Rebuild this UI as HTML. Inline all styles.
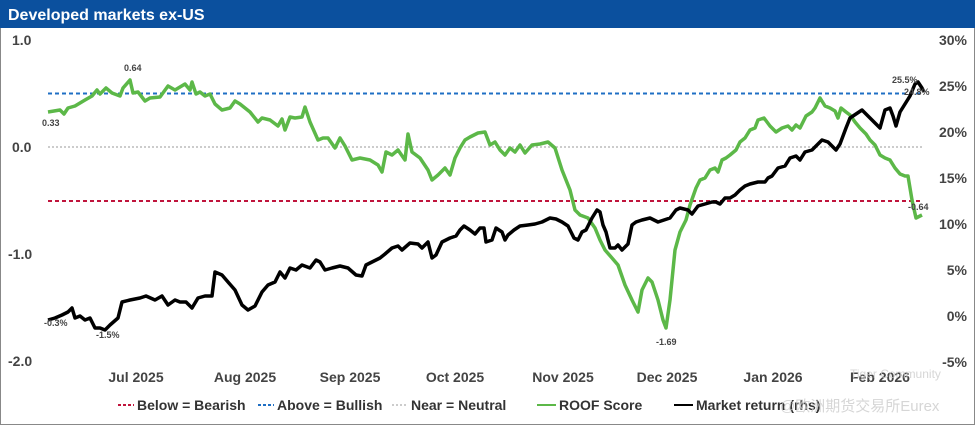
<!DOCTYPE html>
<html><head><meta charset="utf-8"><style>
html,body{margin:0;padding:0;background:#fff;}
body{width:975px;height:425px;overflow:hidden;font-family:"Liberation Sans","Noto Sans CJK SC",sans-serif;}
</style></head><body>
<svg width="975" height="425" viewBox="0 0 975 425" xmlns="http://www.w3.org/2000/svg" font-family="Liberation Sans, Noto Sans CJK SC, sans-serif">
<rect x="0.5" y="0.5" width="974" height="424" fill="#fff" stroke="#888"/>
<rect x="0" y="0" width="975" height="28" fill="#0b509e"/>
<text x="8" y="20" fill="#fff" font-size="16" font-weight="bold">Developed markets ex-US</text>
<g fill="#444" font-size="14" font-weight="bold">
<text x="12" y="45">1.0</text><text x="12" y="152">0.0</text><text x="8" y="259">-1.0</text><text x="8" y="366">-2.0</text>
</g>
<g fill="#444" font-size="14" font-weight="bold" text-anchor="end">
<text x="967" y="45">30%</text><text x="967" y="91">25%</text><text x="967" y="137">20%</text><text x="967" y="183">15%</text><text x="967" y="229">10%</text><text x="967" y="275">5%</text><text x="967" y="321">0%</text><text x="967" y="367">-5%</text>
</g>
<line x1="48" y1="93.5" x2="922" y2="93.5" stroke="#1f6fc4" stroke-width="2" stroke-dasharray="4,3"/>
<line x1="48" y1="147" x2="922" y2="147" stroke="#bbb" stroke-width="1.5" stroke-dasharray="2,2"/>
<line x1="48" y1="201" x2="922" y2="201" stroke="#c0143c" stroke-width="2" stroke-dasharray="4,3"/>
<polyline fill="none" stroke="#5cb848" stroke-width="3.5" stroke-linejoin="round" points="48,112 60,110 64,114 68,108 75,106 85,100 92,96 97,90 100,94 106,88 112,93 120,96 123,88 130,80 133,93 138,92 145,101 150,98 160,97 168,86 175,90 185,84 190,90 192,82 196,94 200,92 205,96 210,94 215,104 222,110 230,108 235,101 240,104 250,112 258,122 262,118 270,120 278,126 282,119 285,130 290,117 295,118 302,117 305,107 310,122 318,140 323,138 328,138 335,148 340,138 345,146 352,160 360,158 370,160 378,165 382,172 386,152 392,155 398,150 405,160 408,134 412,152 420,158 428,170 432,180 438,175 445,168 450,175 455,158 460,148 465,140 470,137 478,133 485,132 490,145 495,142 500,150 505,155 510,148 515,152 520,145 525,153 532,145 540,144 548,142 555,148 562,170 570,190 575,210 580,215 588,218 595,228 600,240 605,250 612,258 618,265 625,285 632,300 638,312 642,290 648,278 652,282 658,300 663,320 666,328 670,300 675,250 680,232 686,220 690,205 696,188 700,180 705,178 710,170 715,168 718,172 722,160 726,158 730,155 736,150 740,142 745,138 750,130 755,128 758,120 764,118 770,126 776,132 782,128 788,126 792,130 796,125 800,128 806,116 812,112 815,108 820,98 825,106 830,108 835,111 838,118 841,108 846,112 850,115 855,122 860,128 866,134 870,140 875,145 880,155 885,158 890,160 895,168 900,174 905,176 908,176 912,200 916,218 922,215"/>
<polyline fill="none" stroke="#000" stroke-width="3.5" stroke-linejoin="round" points="48,320 55,318 62,315 68,312 72,308 75,318 80,316 85,320 90,318 95,328 100,328 105,330 110,325 118,318 122,302 130,300 140,298 146,296 155,300 162,296 168,305 175,300 180,302 186,302 192,308 198,298 205,296 212,296 215,272 222,275 228,282 235,290 242,305 248,310 255,306 262,292 268,285 275,282 280,272 285,278 290,268 296,270 302,265 310,268 316,260 320,262 325,270 332,268 340,266 348,268 356,275 362,276 366,265 372,262 380,258 385,254 392,248 398,246 402,250 410,243 418,244 422,248 428,242 432,258 436,255 442,242 450,238 456,236 460,230 464,226 470,230 475,234 480,228 484,228 486,242 492,240 496,228 502,232 505,240 508,235 514,230 520,226 528,225 535,224 542,222 550,218 556,219 562,222 568,226 574,238 578,240 582,232 586,230 592,218 597,210 600,212 603,225 606,232 610,248 615,248 618,245 622,250 628,244 632,225 636,222 642,220 650,218 658,222 664,220 670,218 676,210 680,208 688,210 692,214 698,206 705,204 712,202 716,202 720,204 725,198 730,198 735,195 740,190 745,186 750,184 758,182 765,182 768,178 772,176 778,168 785,166 790,158 796,156 800,160 805,152 812,150 818,144 822,140 828,142 832,146 836,150 840,144 846,128 850,118 856,114 862,110 868,116 874,122 880,128 885,110 890,108 893,116 896,126 900,112 905,104 910,96 915,84 918,82 922,88 924,92"/>
<g fill="#444" font-size="9" font-weight="bold">
<text x="42" y="126">0.33</text><text x="124" y="71">0.64</text><text x="44" y="326">-0.3%</text><text x="96" y="338">-1.5%</text>
<text x="656" y="345">-1.69</text><text x="892" y="83">25.5%</text><text x="904" y="95">24.8%</text><text x="908" y="210">-0.64</text>
</g>
<g fill="#444" font-size="14" font-weight="bold" text-anchor="middle">
<text x="136" y="382">Jul 2025</text><text x="245" y="382">Aug 2025</text><text x="350" y="382">Sep 2025</text><text x="455" y="382">Oct 2025</text><text x="563" y="382">Nov 2025</text><text x="667" y="382">Dec 2025</text><text x="773" y="382">Jan 2026</text><text x="880" y="382">Feb 2026</text>
</g>
<g font-size="14" font-weight="bold" fill="#333">
<line x1="118" y1="405" x2="134" y2="405" stroke="#c0143c" stroke-width="2" stroke-dasharray="3,2"/><text x="137" y="410">Below = Bearish</text>
<line x1="258" y1="405" x2="274" y2="405" stroke="#1f6fc4" stroke-width="2" stroke-dasharray="3,2"/><text x="277" y="410">Above = Bullish</text>
<line x1="392" y1="405" x2="408" y2="405" stroke="#bbb" stroke-width="1.5" stroke-dasharray="2,2"/><text x="411" y="410">Near = Neutral</text>
<line x1="537" y1="405" x2="556" y2="405" stroke="#5cb848" stroke-width="2"/><text x="559" y="410">ROOF Score</text>
<line x1="674" y1="405" x2="693" y2="405" stroke="#000" stroke-width="2"/><text x="696" y="410">Market return (rhs)</text>
</g>
<text x="780" y="411" fill="#ccc" font-size="15" opacity="0.8">@欧洲期货交易所Eurex</text>
<text x="850" y="378" fill="#ccc" font-size="12" opacity="0.8">Tiger Community</text>
</svg>
</body></html>
